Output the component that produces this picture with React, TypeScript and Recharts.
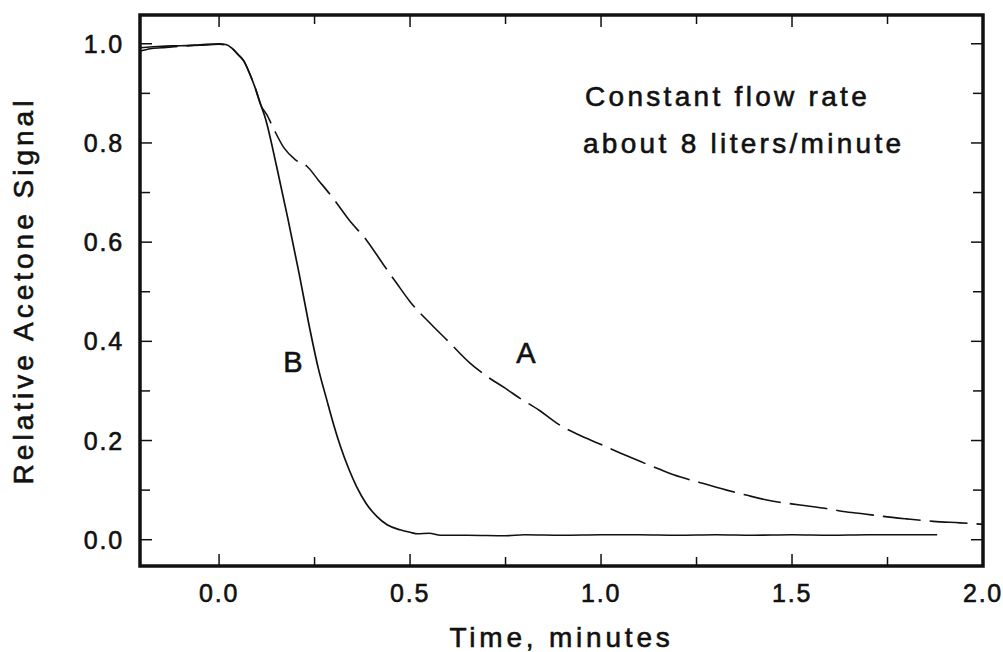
import React from "react";
import { LineChart, Line, XAxis, YAxis, ReferenceArea } from "recharts";

// curve A (dashed) - time in minutes, relative signal
const timeA = [
  -0.207, -0.18, -0.15, -0.1, -0.05, 0.0, 0.02, 0.035, 0.05, 0.065, 0.08, 0.095, 0.11,
  0.125, 0.142, 0.17, 0.2, 0.23, 0.26, 0.3, 0.34, 0.387, 0.43, 0.465, 0.5, 0.557, 0.6,
  0.657, 0.7, 0.75, 0.788, 0.84, 0.884, 0.94, 0.997, 1.05, 1.102, 1.15, 1.19, 1.26,
  1.329, 1.38, 1.434, 1.521, 1.58, 1.634, 1.69, 1.739, 1.8, 1.87, 1.94, 2.0,
];
const signalA = [
  0.985, 0.99, 0.992, 0.995, 0.997, 0.999, 0.997, 0.99, 0.978, 0.965, 0.94, 0.91, 0.875,
  0.857, 0.83, 0.79, 0.766, 0.753, 0.725, 0.687, 0.645, 0.603, 0.555, 0.517, 0.48, 0.433, 0.4,
  0.356, 0.33, 0.305, 0.285, 0.26, 0.235, 0.212, 0.193, 0.175, 0.158, 0.143, 0.131, 0.115,
  0.1, 0.09, 0.08, 0.07, 0.064, 0.057, 0.052, 0.047, 0.042, 0.037, 0.034, 0.031,
];

// curve B (solid)
const timeB = [
  -0.207, -0.15, -0.1, -0.05, 0.0, 0.02, 0.035, 0.05, 0.065, 0.08, 0.095, 0.11, 0.12,
  0.15, 0.18, 0.21, 0.235, 0.26, 0.282, 0.3, 0.317, 0.34, 0.36, 0.385, 0.413,
  0.44, 0.474, 0.5, 0.52, 0.55, 0.58, 0.65, 0.75, 0.8, 0.9, 1.0, 1.1, 1.2, 1.3, 1.4, 1.5,
  1.6, 1.7, 1.8, 1.88,
];
const signalB = [
  0.992, 0.995, 0.996, 0.998, 1.0, 0.998, 0.99, 0.978, 0.965, 0.94, 0.91, 0.875, 0.853,
  0.755, 0.648, 0.535, 0.435, 0.345, 0.282, 0.232, 0.19, 0.142, 0.107, 0.073, 0.047,
  0.03, 0.02, 0.015, 0.012, 0.013, 0.009, 0.009, 0.008, 0.01, 0.009, 0.01, 0.01, 0.009,
  0.01, 0.009, 0.01, 0.009, 0.01, 0.01, 0.01,
];

const xMajor = [0, 0.5, 1.0, 1.5, 2.0];
const xMinor = [0.25, 0.75, 1.25, 1.75];
const yMajor = [0, 0.2, 0.4, 0.6, 0.8, 1.0];
const yMinor = [0.1, 0.3, 0.5, 0.7, 0.9];

const X_DOMAIN: [number, number] = [-0.207, 2.0];
const Y_DOMAIN: [number, number] = [-0.053, 1.058];

const seriesA = timeA.map((x, i) => ({ x, y: signalA[i] }));
const seriesB = timeB.map((x, i) => ({ x, y: signalB[i] }));
const xTicks = [...xMajor, ...xMinor].sort((a, b) => a - b);
const yTicks = [...yMajor, ...yMinor].sort((a, b) => a - b);

// layout
const W = 1003;
const H = 652;
const margin = { top: 15, right: 20, bottom: 30, left: 80 };
const Y_AXIS_W = 60;
const X_AXIS_H = 56;
const PLOT_LEFT = margin.left + Y_AXIS_W;
const PLOT_RIGHT = W - margin.right;
const PLOT_TOP = margin.top;
const PLOT_BOTTOM = H - margin.bottom - X_AXIS_H;

const FONT = "'Liberation Sans', Arial, Helvetica, sans-serif";
const INK = "#111";
// scanned print looks a bit heavier than regular weight
const heavy = { stroke: INK, strokeWidth: 0.6 };

const isMajor = (list: number[], v: number) => list.some((m) => Math.abs(m - v) < 1e-6);

const XTick = ({ x, payload }: any) => {
  const major = isMajor(xMajor, payload.value);
  const len = major ? 12 : 9;
  return (
    <g>
      <line x1={x} x2={x} y1={PLOT_BOTTOM} y2={PLOT_BOTTOM - len} stroke={INK} strokeWidth={1.5} />
      <line x1={x} x2={x} y1={PLOT_TOP} y2={PLOT_TOP + len} stroke={INK} strokeWidth={1.5} />
      {major && (
        <text x={x} y={PLOT_BOTTOM + 36} textAnchor="middle" fontFamily={FONT} fontSize={25}
          letterSpacing={1.8} fill={INK} {...heavy}>
          {payload.value.toFixed(1)}
        </text>
      )}
    </g>
  );
};

const YTick = ({ y, payload }: any) => {
  const major = isMajor(yMajor, payload.value);
  const len = major ? 12 : 10;
  return (
    <g>
      <line x1={PLOT_LEFT} x2={PLOT_LEFT + len} y1={y} y2={y} stroke={INK} strokeWidth={1.5} />
      <line x1={PLOT_RIGHT} x2={PLOT_RIGHT - len} y1={y} y2={y} stroke={INK} strokeWidth={1.5} />
      {major && (
        <text x={PLOT_LEFT - 16} y={y} dy="0.36em" textAnchor="end" fontFamily={FONT} fontSize={25}
          letterSpacing={1.8} fill={INK} {...heavy}>
          {payload.value.toFixed(1)}
        </text>
      )}
    </g>
  );
};

export default function App() {
  const textStyle = { fontFamily: FONT, fill: INK, stroke: INK, strokeWidth: 0.6 };
  return (
    <div style={{ position: "absolute", left: 0, top: 0, width: W, height: H, background: "#fff" }}>
      <LineChart width={W} height={H} margin={margin}>
        <XAxis
          dataKey="x"
          type="number"
          domain={X_DOMAIN}
          ticks={xTicks}
          interval={0}
          allowDataOverflow
          height={X_AXIS_H}
          axisLine={false}
          tickLine={false}
          tickSize={0}
          tick={<XTick />}
        />
        <YAxis
          type="number"
          domain={Y_DOMAIN}
          ticks={yTicks}
          interval={0}
          allowDataOverflow
          width={Y_AXIS_W}
          axisLine={false}
          tickLine={false}
          tickSize={0}
          tick={<YTick />}
        />
        <ReferenceArea
          x1={X_DOMAIN[0]}
          x2={X_DOMAIN[1]}
          y1={Y_DOMAIN[0]}
          y2={Y_DOMAIN[1]}
          fill="none"
          fillOpacity={0}
          stroke={INK}
          strokeWidth={3.5}
          ifOverflow="visible"
        />
        <Line
          data={seriesA}
          dataKey="y"
          type="monotone"
          dot={false}
          stroke={INK}
          strokeWidth={1.6}
          strokeDasharray="38 9"
          isAnimationActive={false}
        />
        <Line
          data={seriesB}
          dataKey="y"
          type="monotone"
          dot={false}
          stroke={INK}
          strokeWidth={1.7}
          isAnimationActive={false}
        />
        <text x={585} y={106} fontSize={28} letterSpacing={3.3} style={textStyle}>
          Constant flow rate
        </text>
        <text x={583} y={153} fontSize={28} letterSpacing={3.3} style={textStyle}>
          about 8 liters/minute
        </text>
        <text x={293} y={372} fontSize={29} textAnchor="middle" style={textStyle}>B</text>
        <text x={526} y={363} fontSize={29} textAnchor="middle" style={textStyle}>A</text>
        <text x={(PLOT_LEFT + PLOT_RIGHT) / 2} y={647} fontSize={28} letterSpacing={3.8}
          textAnchor="middle" style={textStyle}>
          Time, minutes
        </text>
        <text
          transform={`translate(33, ${(PLOT_TOP + PLOT_BOTTOM) / 2}) rotate(-90)`}
          fontSize={28}
          letterSpacing={4}
          textAnchor="middle"
          style={textStyle}
        >
          Relative Acetone Signal
        </text>
      </LineChart>
    </div>
  );
}
